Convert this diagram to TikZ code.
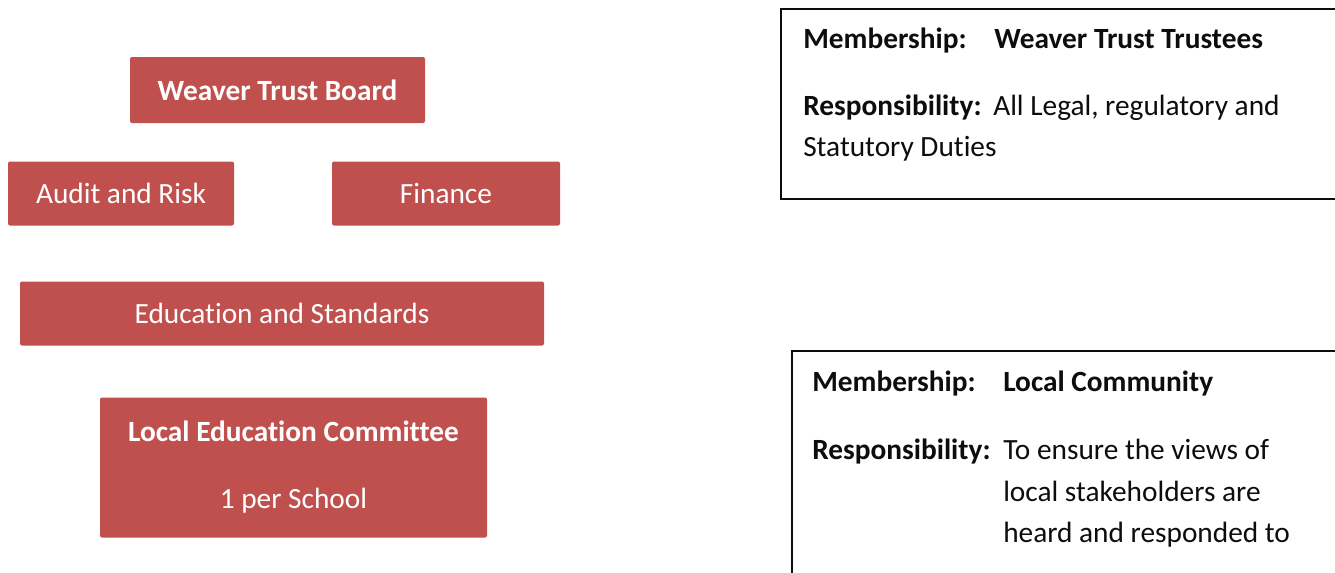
\documentclass[tikz,border=0pt]{standalone}
\usepackage{fontspec}
\setmainfont{Carlito}[RawFeature={-liga;-clig;-dlig;-rlig}]
\definecolor{boxred}{HTML}{C0504D}
\definecolor{ink}{HTML}{0D0D0D}
\begin{document}
\begin{tikzpicture}[x=0.75pt,y=-0.75pt,
  redbox/.style={draw=none,fill=boxred,rounded corners=1.5pt,text=white,
    font=\fontsize{22}{26}\selectfont,inner sep=0pt},
  infobox/.style={draw=ink,line width=1.3pt,fill=white},
  infotext/.style={anchor=base west,inner sep=0pt,text=ink,
    font=\fontsize{22}{26}\selectfont}]
\useasboundingbox (0,0) rectangle (1335,572);
\clip (0,0) rectangle (1335,572);

% governance structure
\node[redbox,minimum width=295*0.75pt,minimum height=66*0.75pt] (board) at (277.5,90) {\textbf{Weaver Trust Board}};
\node[redbox,minimum width=226*0.75pt,minimum height=64*0.75pt] (audit) at (121,193.5) {Audit and Risk};
\node[redbox,minimum width=228*0.75pt,minimum height=64*0.75pt] (finance) at (446,193.5) {Finance};
\node[redbox,minimum width=524*0.75pt,minimum height=64*0.75pt] (edu) at (282,313.5) {Education and Standards};
\node[redbox,minimum width=387*0.75pt,minimum height=140*0.75pt,align=center,
  font=\fontsize{22}{50.25}\selectfont] (lec) at (293.5,467.5) {\textbf{Local Education Committee}\\1 per School};

% trustees panel
\node[infobox,anchor=north west,minimum width=600*0.75pt,minimum height=190*0.75pt] (trustbox) at (780,8) {};
\node[infotext] (m1) at (803,48) {\textbf{Membership:}};
\node[infotext] (m1v) at (994,48) {\textbf{Weaver Trust Trustees}};
\node[infotext] (r1) at (803,115.5) {\textbf{Responsibility:}};
\node[infotext] (r1v) at (993,115.5) {All Legal, regulatory and};
\node[infotext] (r1w) at (803,156) {Statutory Duties};

% local community panel
\node[infobox,anchor=north west,minimum width=600*0.75pt,minimum height=260*0.75pt] (localbox) at (791,350) {};
\node[infotext] (m2) at (812,391) {\textbf{Membership:}};
\node[infotext] (m2v) at (1003,391) {\textbf{Local Community}};
\node[infotext] (r2) at (812,459) {\textbf{Responsibility:}};
\node[infotext] (r2a) at (1003,459) {To ensure the views of};
\node[infotext] (r2b) at (1003,501) {local stakeholders are};
\node[infotext] (r2c) at (1003,542) {heard and responded to};
\end{tikzpicture}
\end{document}
